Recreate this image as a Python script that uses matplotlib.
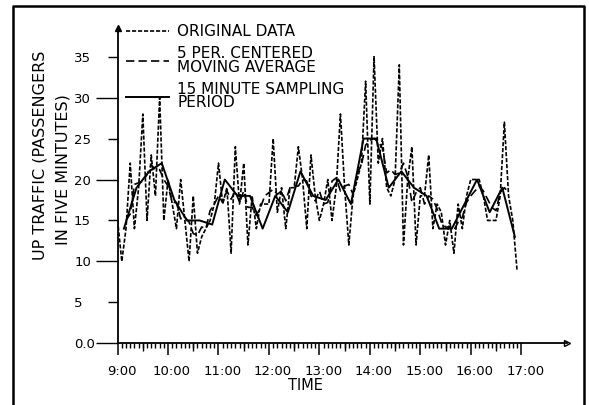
import numpy as np
import matplotlib.pyplot as plt
from matplotlib.lines import Line2D
from matplotlib.ticker import FixedLocator, FixedFormatter, NullFormatter
import matplotlib.transforms as mtransforms

# 5-minute counts, 9:00 to 16:55
original = [15, 10, 14, 22, 14, 19, 28, 15, 23, 18,
            30, 15, 20, 17, 14, 20, 15, 10, 18, 11,
            13, 14, 15, 17, 22, 17, 19, 11, 24, 17,
            22, 12, 18, 14, 17, 17, 17, 25, 16, 19,
            14, 19, 19, 24, 20, 14, 23, 18, 15, 17,
            20, 15, 19, 28, 19, 12, 18, 20, 22, 32,
            17, 35, 22, 25, 19, 18, 20, 34, 12, 20,
            24, 12, 18, 18, 23, 14, 17, 16, 12, 15,
            11, 17, 14, 18, 20, 20, 20, 18, 15, 15,
            15, 18, 27, 18, 15, 9]

# 5 period centered moving average, 9:10 to 16:45
moving_avg = [15.0, 15.8, 19.4, 19.6, 19.8, 20.6, 21.8, 21.2, 21.2, 20.0,
              19.2, 17.2, 17.2, 15.2, 15.4, 14.8, 13.4, 13.2, 14.2, 14.0,
              16.2, 17.0, 18.0, 17.2, 18.6, 17.6, 18.6, 17.2, 18.6, 16.6,
              16.6, 15.6, 16.6, 18.0, 18.4, 18.8, 18.2, 18.6, 17.4, 19.0,
              19.2, 19.2, 20.0, 19.8, 18.0, 17.4, 18.6, 17.0, 17.2, 19.8,
              20.2, 18.6, 19.2, 19.4, 18.2, 20.8, 21.8, 24.2, 24.8, 25.0,
              24.6, 23.8, 20.8, 21.2, 20.6, 20.8, 22.0, 20.4, 17.2, 18.4,
              19.0, 17.0, 18.0, 17.6, 16.4, 14.8, 14.2, 14.2, 13.8, 14.8,
              15.4, 17.2, 18.0, 18.6, 19.2, 18.6, 17.6, 16.6, 16.2, 18.4,
              19.0, 18.4]

# 15 minute sampling period, centred on each period
sampled = [14, 19, 21, 22, 17.5, 15, 15, 14.5, 20, 18, 18, 14,
           18, 16, 21, 18, 17.5, 20, 17, 25, 25, 19, 21, 19,
           18, 14, 14, 17, 20, 16, 19, 13]

hours = [9, 10, 11, 12, 13, 14, 15, 16, 17]
hour_labels = ['9:00', '10:00', '11:00', '12:00', '13:00',
               '14:00', '15:00', '16:00', '17:00']
y_major = [0, 10, 20, 30]
y_major_labels = ['0.0', '10', '20', '30']
y_minor = [5, 15, 25, 35]
y_minor_labels = ['5', '15', '25', '35']

t_orig = 9 + np.arange(len(original)) * 5 / 60
t_ma = 9 + (np.arange(len(moving_avg)) + 2) * 5 / 60
t_15 = 9 + 7.5 / 60 + np.arange(len(sampled)) * 15 / 60

W, H = 589, 405
fig = plt.figure(figsize=(W / 100, H / 100), dpi=100)
ax = fig.add_axes([117.6 / W, 61.7 / H, 449 / W, 315.3 / H])

ax.plot(t_orig, original, color='black', lw=1.2, ls=(0, (2.5, 1.1)),
        label='ORIGINAL DATA')
ax.plot(t_ma, moving_avg, color='black', lw=1.2, ls=(0, (5, 2.5)),
        label='5 PER. CENTERED\nMOVING AVERAGE')
ax.plot(t_15, sampled, color='black', lw=1.4, ls='-',
        label='15 MINUTE SAMPLING\nPERIOD')

ax.set_xlim(9, 17.9)
ax.set_ylim(0, 38.5)

for s in ['top', 'right']:
    ax.spines[s].set_visible(False)
for s in ['left', 'bottom']:
    ax.spines[s].set_linewidth(1.3)

# y axis: long ticks at 0/10/20/30, short at 5/15/25/35, labels left aligned
ax.yaxis.set_major_locator(FixedLocator(y_major))
ax.yaxis.set_major_formatter(FixedFormatter(y_major_labels))
ax.yaxis.set_minor_locator(FixedLocator(y_minor))
ax.yaxis.set_minor_formatter(FixedFormatter(y_minor_labels))
ax.tick_params(axis='y', which='major', direction='out', length=15.8,
               width=1.0, pad=15.5, labelsize=9.5)
ax.tick_params(axis='y', which='minor', direction='out', length=7.2,
               width=1.0, pad=24.2, labelsize=9.5)
for lab in ax.get_yticklabels() + ax.get_yticklabels(minor=True):
    lab.set_horizontalalignment('left')

# x axis: hour ticks, half hour ticks (twin) and 5 minute ticks
ax.xaxis.set_major_locator(FixedLocator(hours))
ax.xaxis.set_major_formatter(FixedFormatter(hour_labels))
ax.xaxis.set_minor_locator(FixedLocator(9 + np.arange(0, 97) * 5 / 60))
ax.tick_params(axis='x', which='major', direction='out', length=8.6,
               width=1.1, pad=7, labelsize=9.5)
ax.tick_params(axis='x', which='minor', direction='out', length=3.8,
               width=1.0)
shift = mtransforms.ScaledTranslation(4 / 100, 0, fig.dpi_scale_trans)
for lab in ax.get_xticklabels():
    lab.set_transform(lab.get_transform() + shift)

ax2 = ax.twiny()
ax2.set_xlim(ax.get_xlim())
ax2.xaxis.set_ticks_position('bottom')
ax2.xaxis.set_major_locator(FixedLocator(9.5 + np.arange(8)))
ax2.xaxis.set_major_formatter(NullFormatter())
ax2.tick_params(axis='x', which='major', direction='out', length=6.0,
                width=1.0)
for s in ax2.spines.values():
    s.set_visible(False)

# arrow heads at the axis ends
ax.plot([0], [1], marker='^', ms=5, color='black', transform=ax.transAxes,
        clip_on=False)
ax.plot([1], [0], marker='>', ms=5, mfc='white', mec='black', mew=1.0,
        transform=ax.transAxes, clip_on=False)

ax.set_xlabel('TIME', fontsize=10.5)
ax.xaxis.set_label_coords((305 - 117.6) / 449, -41.7 / 315.3)
ax.xaxis.label.set_va('center')

fig.text(40 / W, 1 - 155 / H, 'UP TRAFFIC (PASSENGERS', rotation=90,
         ha='center', va='center', fontsize=11.5)
fig.text(63 / W, 1 - 170 / H, 'IN FIVE MINTUTES)', rotation=90,
         ha='center', va='center', fontsize=11.5)

leg = ax.legend(loc='upper left', bbox_to_anchor=(126 / W, 1 - 24 / H),
                bbox_transform=fig.transFigure, frameon=False, fontsize=11,
                handlelength=2.8, handletextpad=0.55, borderpad=0,
                borderaxespad=0, labelspacing=0.45)
for t in leg.get_texts():
    t.set_linespacing(0.9)

# outer frame (open at the bottom)
fig.add_artist(Line2D([13 / W, 13 / W, 584 / W, 584 / W],
                      [0, 1 - 6 / H, 1 - 6 / H, 0],
                      transform=fig.transFigure, color='black', lw=1.8))

fig.savefig('out.png', dpi=100)
